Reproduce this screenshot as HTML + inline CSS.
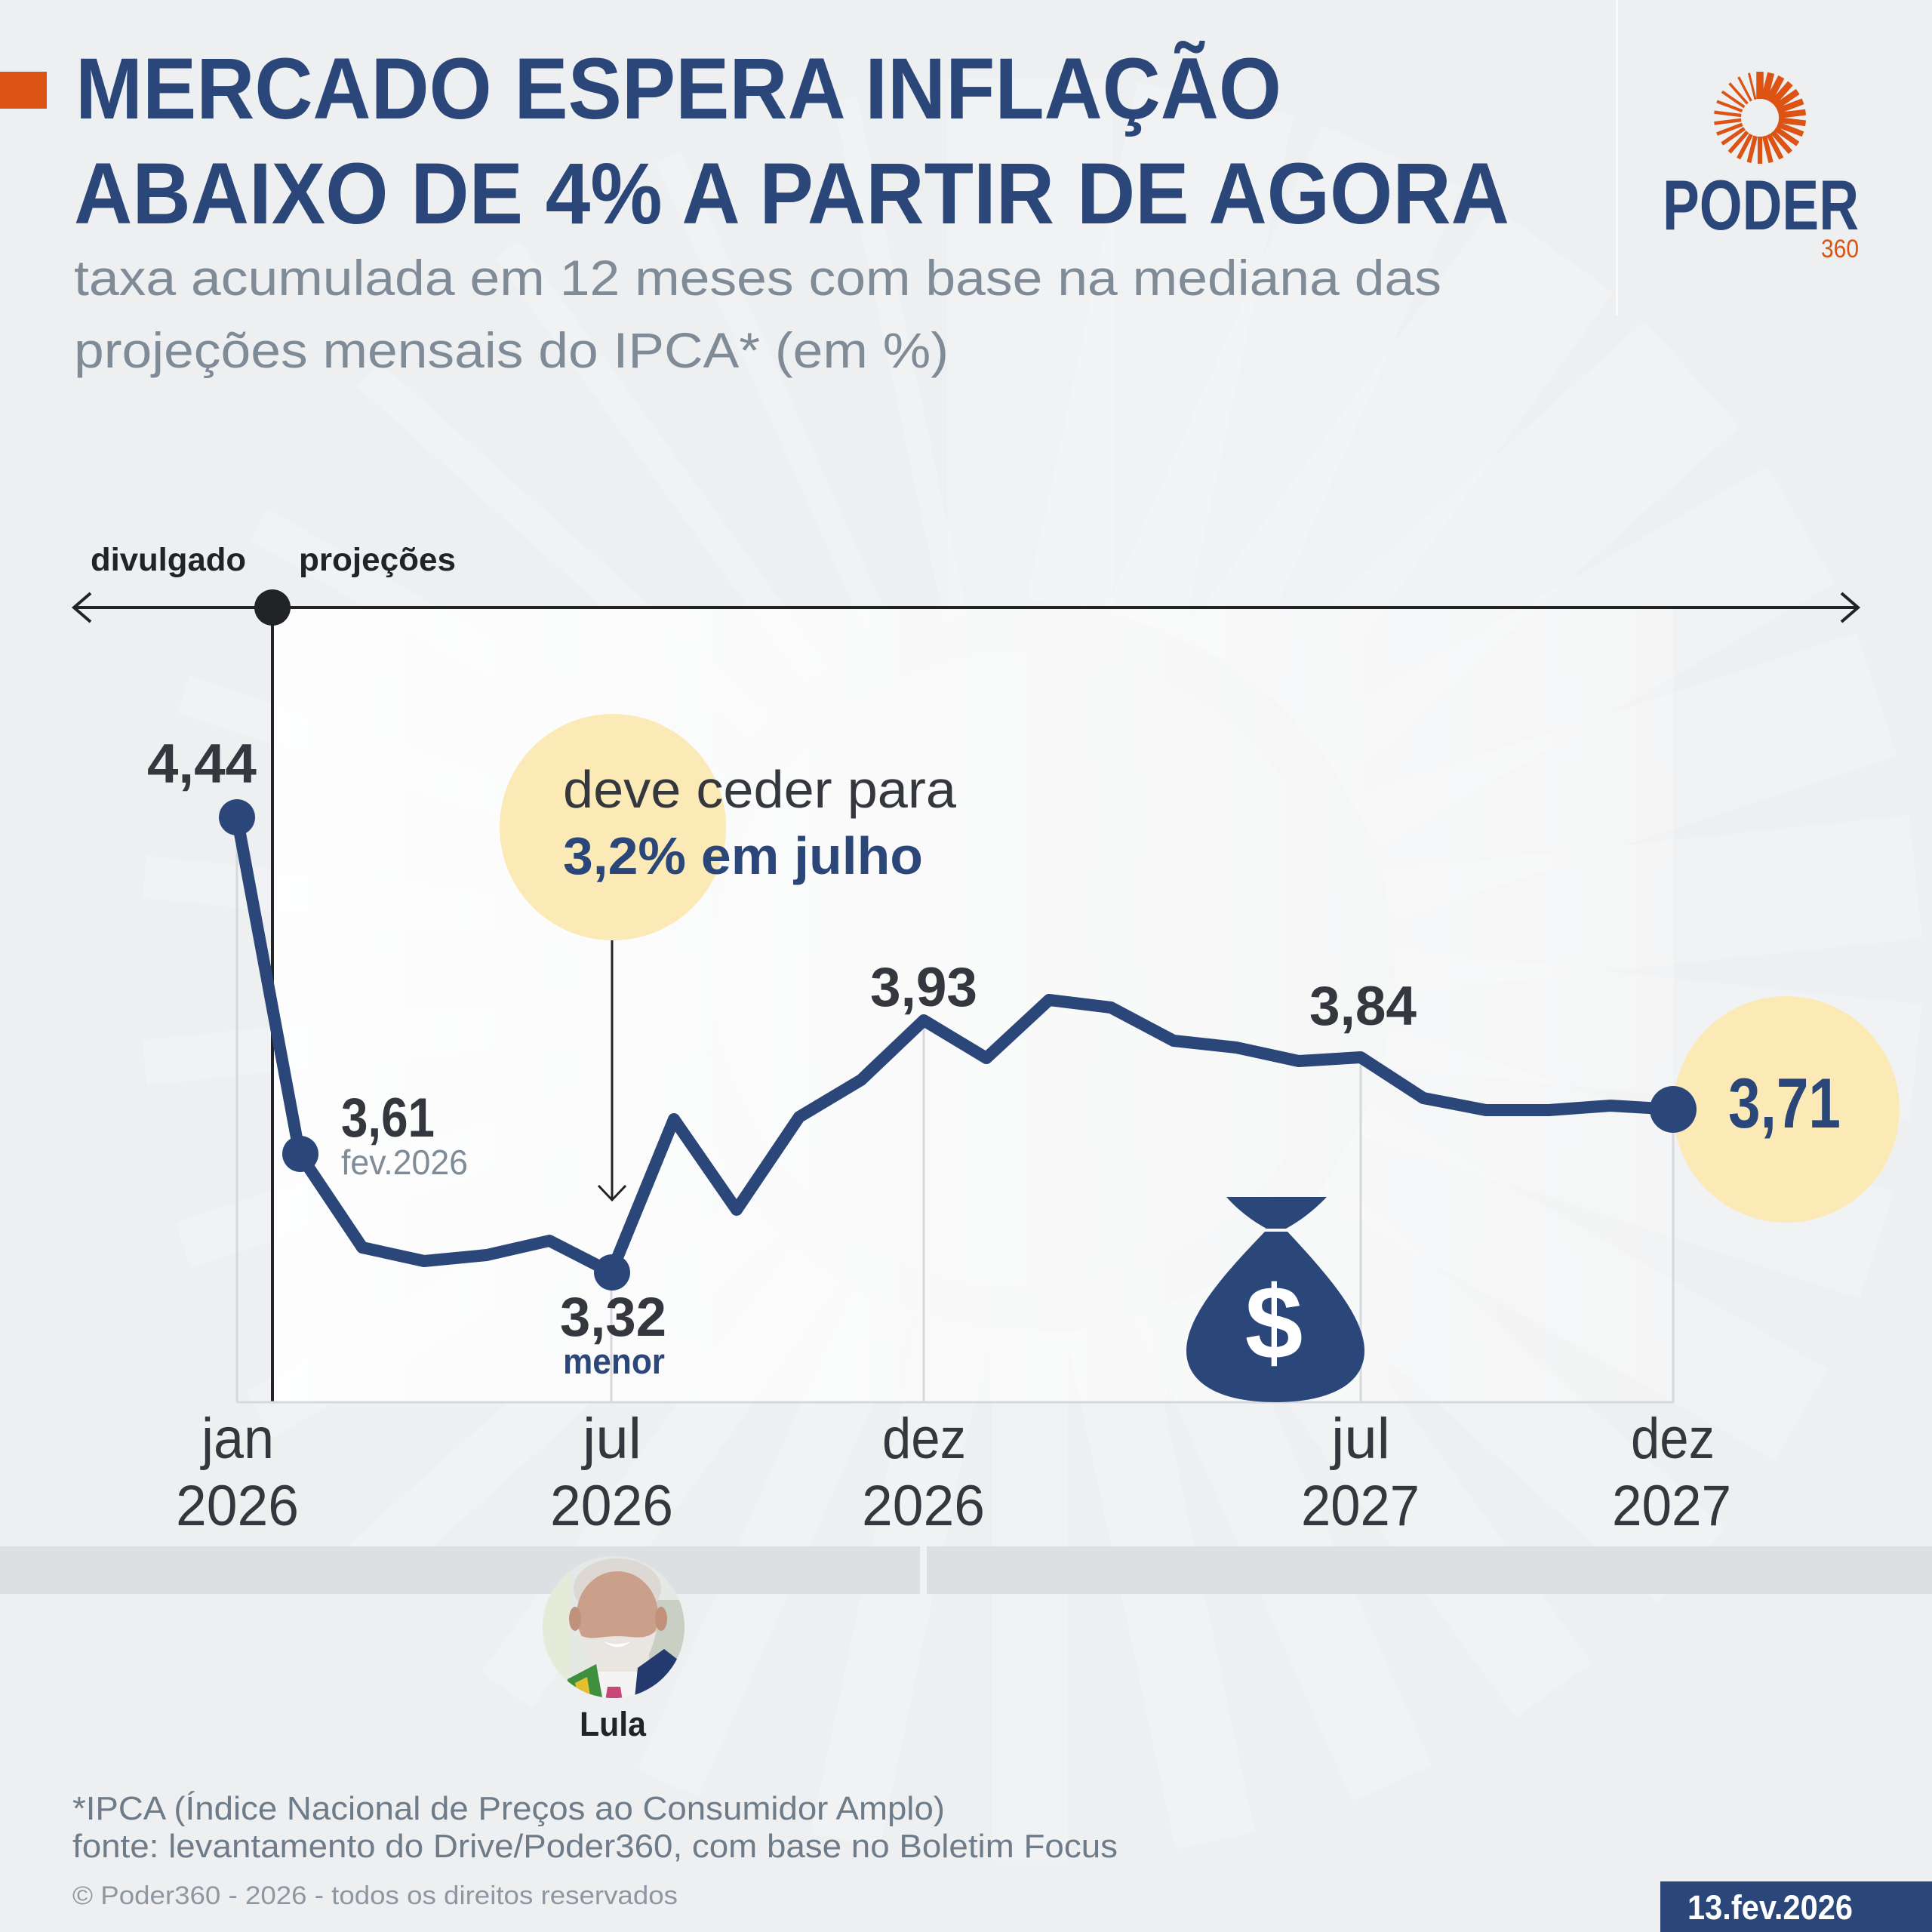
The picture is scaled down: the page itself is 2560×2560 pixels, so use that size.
<!DOCTYPE html>
<html><head><meta charset="utf-8"><style>
html,body{margin:0;padding:0;background:#eeeff0;}
svg{display:block;}
text{font-family:"Liberation Sans",sans-serif;}
</style></head><body>
<svg width="2560" height="2560" viewBox="0 0 2560 2560" xmlns="http://www.w3.org/2000/svg">
<defs>
<linearGradient id="pg" x1="0" y1="0" x2="1" y2="0">
<stop offset="0" stop-color="#ffffff" stop-opacity="0.9"/>
<stop offset="0.55" stop-color="#ffffff" stop-opacity="0.6"/>
<stop offset="1" stop-color="#ffffff" stop-opacity="0.25"/>
</linearGradient>
<clipPath id="lc"><circle cx="813" cy="2156" r="94"/></clipPath>
</defs>
<rect width="2560" height="2560" fill="#eeeff0"/>
<!-- watermark rays -->
<g transform="translate(1365,1285)" fill="#ffffff" fill-opacity="0.2">
<rect x="480" y="-110" width="700" height="220" transform="rotate(-90)"/>
<rect x="480" y="-106" width="700" height="212" transform="rotate(-78)"/>
<rect x="480" y="-102" width="700" height="204" transform="rotate(-66)"/>
<rect x="480" y="-98" width="700" height="196" transform="rotate(-54)"/>
<rect x="480" y="-94" width="700" height="188" transform="rotate(-42)"/>
<rect x="480" y="-90" width="700" height="180" transform="rotate(-30)"/>
<rect x="480" y="-86" width="700" height="172" transform="rotate(-18)"/>
<rect x="480" y="-82" width="700" height="164" transform="rotate(-6)"/>
<rect x="480" y="-78" width="700" height="156" transform="rotate(6)"/>
<rect x="480" y="-74" width="700" height="148" transform="rotate(18)"/>
<rect x="480" y="-70" width="700" height="140" transform="rotate(30)"/>
<rect x="480" y="-66" width="700" height="132" transform="rotate(42)"/>
<rect x="480" y="-62" width="700" height="124" transform="rotate(54)"/>
<rect x="480" y="-58" width="700" height="116" transform="rotate(66)"/>
<rect x="480" y="-54" width="700" height="108" transform="rotate(78)"/>
<rect x="480" y="-50" width="700" height="100" transform="rotate(90)"/>
<rect x="480" y="-47" width="700" height="94" transform="rotate(102)"/>
<rect x="480" y="-44" width="700" height="88" transform="rotate(114)"/>
<rect x="480" y="-41" width="700" height="82" transform="rotate(126)"/>
<rect x="480" y="-38" width="700" height="76" transform="rotate(138)"/>
<rect x="480" y="-35" width="700" height="70" transform="rotate(150)"/>
<rect x="480" y="-32" width="700" height="64" transform="rotate(162)"/>
<rect x="480" y="-30" width="700" height="60" transform="rotate(174)"/>
<rect x="480" y="-28" width="700" height="56" transform="rotate(186)"/>
<rect x="480" y="-26" width="700" height="52" transform="rotate(198)"/>
<rect x="480" y="-24" width="700" height="48" transform="rotate(210)"/>
<rect x="480" y="-22" width="700" height="44" transform="rotate(222)"/>
<rect x="480" y="-20" width="700" height="40" transform="rotate(234)"/>
<rect x="480" y="-18" width="700" height="36" transform="rotate(246)"/>
<rect x="480" y="-16" width="700" height="32" transform="rotate(258)"/>
</g>
<circle cx="1365" cy="1285" r="420" fill="#ffffff" fill-opacity="0.15"/>

<!-- header -->
<rect x="0" y="95" width="62" height="49" fill="#dc5314"/>
<text x="100" y="157" font-size="115" font-weight="bold" fill="#2b4779" textLength="1598" lengthAdjust="spacingAndGlyphs">MERCADO ESPERA INFLAÇÃO</text>
<text x="98" y="296" font-size="115" font-weight="bold" fill="#2b4779" textLength="1902" lengthAdjust="spacingAndGlyphs">ABAIXO DE 4% A PARTIR DE AGORA</text>
<text x="98" y="391" font-size="66" fill="#7f8b97" textLength="1812" lengthAdjust="spacingAndGlyphs">taxa acumulada em 12 meses com base na mediana das</text>
<text x="98" y="487" font-size="66" fill="#7f8b97" textLength="1159" lengthAdjust="spacingAndGlyphs">projeções mensais do IPCA* (em %)</text>
<rect x="2141" y="0" width="3" height="418" fill="#fbfbfb"/>

<!-- logo -->
<g transform="translate(2332,156)" fill="#dc5314">
<rect x="25" y="-4.75" width="36" height="9.5" transform="rotate(-90)"/>
<rect x="25" y="-4.62" width="36" height="9.24" transform="rotate(-76.15)"/>
<rect x="25" y="-4.49" width="36" height="8.98" transform="rotate(-62.3)"/>
<rect x="25" y="-4.36" width="36" height="8.72" transform="rotate(-48.46)"/>
<rect x="25" y="-4.23" width="36" height="8.46" transform="rotate(-34.6)"/>
<rect x="25" y="-4.1" width="36" height="8.2" transform="rotate(-20.8)"/>
<rect x="25" y="-3.97" width="36" height="7.94" transform="rotate(-6.9)"/>
<rect x="25" y="-3.84" width="36" height="7.68" transform="rotate(6.9)"/>
<rect x="25" y="-3.71" width="36" height="7.42" transform="rotate(20.8)"/>
<rect x="25" y="-3.58" width="36" height="7.16" transform="rotate(34.6)"/>
<rect x="25" y="-3.45" width="36" height="6.9" transform="rotate(48.5)"/>
<rect x="25" y="-3.32" width="36" height="6.64" transform="rotate(62.3)"/>
<rect x="25" y="-3.19" width="36" height="6.38" transform="rotate(76.2)"/>
<rect x="25" y="-3.06" width="36" height="6.12" transform="rotate(90)"/>
<rect x="25" y="-2.93" width="36" height="5.86" transform="rotate(103.8)"/>
<rect x="25" y="-2.8" width="36" height="5.6" transform="rotate(117.7)"/>
<rect x="25" y="-2.67" width="36" height="5.34" transform="rotate(131.5)"/>
<rect x="25" y="-2.54" width="36" height="5.08" transform="rotate(145.4)"/>
<rect x="25" y="-2.41" width="36" height="4.82" transform="rotate(159.2)"/>
<rect x="25" y="-2.28" width="36" height="4.56" transform="rotate(173.1)"/>
<rect x="25" y="-2.15" width="36" height="4.3" transform="rotate(186.9)"/>
<rect x="25" y="-2.02" width="36" height="4.04" transform="rotate(200.8)"/>
<rect x="25" y="-1.89" width="36" height="3.78" transform="rotate(214.6)"/>
<rect x="25" y="-1.76" width="36" height="3.52" transform="rotate(228.5)"/>
<rect x="25" y="-1.63" width="36" height="3.26" transform="rotate(242.3)"/>
<rect x="25" y="-1.5" width="36" height="3" transform="rotate(256.2)"/>
</g>
<text x="2203" y="304" font-size="94" font-weight="bold" fill="#2b4779" textLength="260" lengthAdjust="spacingAndGlyphs">PODER</text>
<text x="2413" y="341" font-size="34" fill="#dc5314" textLength="50" lengthAdjust="spacingAndGlyphs">360</text>

<!-- panel -->
<rect x="361" y="805" width="1856" height="1053" fill="url(#pg)"/>

<!-- top axis -->
<text x="120" y="756" font-size="43" font-weight="bold" fill="#222327" textLength="206" lengthAdjust="spacingAndGlyphs">divulgado</text>
<text x="396" y="756" font-size="43" font-weight="bold" fill="#222327" textLength="208" lengthAdjust="spacingAndGlyphs">projeções</text>
<line x1="98" y1="805" x2="2462" y2="805" stroke="#222327" stroke-width="4"/>
<polyline points="120,786 98,805 120,824" fill="none" stroke="#222327" stroke-width="4"/>
<polyline points="2440,786 2462,805 2440,824" fill="none" stroke="#222327" stroke-width="4"/>
<line x1="361" y1="805" x2="361" y2="1858" stroke="#222327" stroke-width="4"/>
<circle cx="361" cy="805" r="24" fill="#222327"/>

<!-- grid -->
<g stroke="#d5d8dc" stroke-width="3" fill="none">
<line x1="314" y1="1083" x2="314" y2="1858"/>
<line x1="810" y1="1686" x2="810" y2="1858"/>
<line x1="1224" y1="1352" x2="1224" y2="1858"/>
<line x1="1803" y1="1401" x2="1803" y2="1858"/>
<line x1="2217" y1="1470" x2="2217" y2="1858"/>
<line x1="314" y1="1858" x2="2218" y2="1858"/>
</g>

<!-- yellow circles -->
<circle cx="812" cy="1096" r="150" fill="#fbeab5"/>
<circle cx="2367" cy="1470" r="150" fill="#fbeab5"/>

<!-- callout -->
<text x="746" y="1070" font-size="70" fill="#34373e" textLength="521" lengthAdjust="spacingAndGlyphs">deve ceder para</text>
<text x="746" y="1158" font-size="70" font-weight="bold" fill="#2b4779" textLength="477" lengthAdjust="spacingAndGlyphs">3,2% em julho</text>
<line x1="811" y1="1246" x2="811" y2="1590" stroke="#222327" stroke-width="3"/>
<polyline points="793,1571 811,1590 829,1571" fill="none" stroke="#222327" stroke-width="3"/>

<!-- money bag -->
<path d="M1625,1586 L1758,1586 C1740,1605 1722,1618 1704,1628 L1678,1628 C1660,1618 1642,1605 1625,1586 Z" fill="#2b4779"/>
<path d="M1676,1632 L1706,1632 C1760,1690 1808,1745 1808,1790 C1808,1832 1765,1858 1690,1858 C1615,1858 1572,1832 1572,1790 C1572,1745 1620,1690 1676,1632 Z" fill="#2b4779"/>
<text x="1688" y="1800" font-size="138" font-weight="bold" fill="#ffffff" text-anchor="middle">$</text>

<!-- series -->
<polyline fill="none" stroke="#2b4779" stroke-width="16" stroke-linejoin="round" stroke-linecap="round"
points="314,1083 397,1529 480,1653 562,1671 645,1663 728,1644 810,1686 893,1483 976,1603 1059,1480 1141,1431 1224,1352 1307,1402 1390,1325 1472,1335 1555,1379 1638,1388 1721,1406 1803,1401 1886,1455 1969,1471 2052,1471 2134,1465 2217,1470"/>
<circle cx="314" cy="1083" r="24" fill="#2b4779"/>
<circle cx="398" cy="1529" r="24" fill="#2b4779"/>
<circle cx="811" cy="1686" r="24" fill="#2b4779"/>
<circle cx="2217" cy="1470" r="31" fill="#2b4779"/>

<!-- value labels -->
<text x="195" y="1037" font-size="73" font-weight="bold" fill="#34373e" textLength="145" lengthAdjust="spacingAndGlyphs">4,44</text>
<text x="452" y="1506" font-size="73" font-weight="bold" fill="#34373e" textLength="124" lengthAdjust="spacingAndGlyphs">3,61</text>
<text x="452" y="1556" font-size="46" fill="#7f8b97" textLength="168" lengthAdjust="spacingAndGlyphs">fev.2026</text>
<text x="742" y="1770" font-size="73" font-weight="bold" fill="#34373e" textLength="141" lengthAdjust="spacingAndGlyphs">3,32</text>
<text x="746" y="1820" font-size="47" font-weight="bold" fill="#2b4779" textLength="135" lengthAdjust="spacingAndGlyphs">menor</text>
<text x="1153" y="1333" font-size="73" font-weight="bold" fill="#34373e" textLength="142" lengthAdjust="spacingAndGlyphs">3,93</text>
<text x="1735" y="1358" font-size="73" font-weight="bold" fill="#34373e" textLength="142" lengthAdjust="spacingAndGlyphs">3,84</text>
<text x="2290" y="1494" font-size="94" font-weight="bold" fill="#2b4779" textLength="149" lengthAdjust="spacingAndGlyphs">3,71</text>

<!-- x labels -->
<g font-size="76" fill="#34373e">
<text x="267" y="1932" textLength="96" lengthAdjust="spacingAndGlyphs">jan</text>
<text x="233" y="2021" textLength="163" lengthAdjust="spacingAndGlyphs">2026</text>
<text x="772" y="1932" textLength="78" lengthAdjust="spacingAndGlyphs">jul</text>
<text x="729" y="2021" textLength="163" lengthAdjust="spacingAndGlyphs">2026</text>
<text x="1169" y="1932" textLength="111" lengthAdjust="spacingAndGlyphs">dez</text>
<text x="1142" y="2021" textLength="163" lengthAdjust="spacingAndGlyphs">2026</text>
<text x="1764" y="1932" textLength="78" lengthAdjust="spacingAndGlyphs">jul</text>
<text x="1724" y="2021" textLength="157" lengthAdjust="spacingAndGlyphs">2027</text>
<text x="2161" y="1932" textLength="111" lengthAdjust="spacingAndGlyphs">dez</text>
<text x="2136" y="2021" textLength="158" lengthAdjust="spacingAndGlyphs">2027</text>
</g>

<!-- band -->
<rect x="0" y="2049" width="1219" height="63" fill="#dce0e3"/>
<rect x="1228" y="2049" width="1332" height="63" fill="#dce0e3"/>

<!-- Lula photo -->
<g clip-path="url(#lc)">
<rect x="715" y="2058" width="200" height="200" fill="#e4e9e6"/>
<rect x="715" y="2058" width="40" height="200" fill="#e6ead8"/>
<rect x="860" y="2120" width="50" height="80" fill="#c9cfc3"/>
<ellipse cx="818" cy="2105" rx="58" ry="40" fill="#ddd8d3"/>
<ellipse cx="818" cy="2140" rx="54" ry="58" fill="#caa08a"/>
<ellipse cx="762" cy="2145" rx="8" ry="16" fill="#c0927c"/>
<ellipse cx="876" cy="2145" rx="8" ry="16" fill="#c0927c"/>
<path d="M766,2165 C775,2200 795,2226 818,2228 C842,2226 862,2200 870,2160 C855,2175 840,2168 818,2168 C796,2168 780,2175 766,2165 Z" fill="#e9e5e0"/>
<path d="M800,2175 Q818,2190 836,2175 Q818,2182 800,2175 Z" fill="#ffffff"/>
<path d="M790,2215 L850,2215 L860,2260 L780,2260 Z" fill="#f4f4f4"/>
<path d="M845,2210 L880,2185 L912,2210 L912,2260 L840,2260 Z" fill="#243a6e"/>
<path d="M752,2225 L790,2205 L800,2260 L752,2260 Z" fill="#3f8f3f"/>
<path d="M762,2230 L778,2222 L784,2260 L768,2260 Z" fill="#e3c12c"/>
<path d="M805,2235 L822,2235 L826,2260 L801,2260 Z" fill="#c8477a"/>
</g>
<text x="768" y="2300" font-size="45" font-weight="bold" fill="#222327" textLength="88" lengthAdjust="spacingAndGlyphs">Lula</text>

<!-- footer -->
<text x="96" y="2411" font-size="44" fill="#6e7b88" textLength="1156" lengthAdjust="spacingAndGlyphs">*IPCA (Índice Nacional de Preços ao Consumidor Amplo)</text>
<text x="96" y="2461" font-size="44" fill="#6e7b88" textLength="1385" lengthAdjust="spacingAndGlyphs">fonte: levantamento do Drive/Poder360, com base no Boletim Focus</text>
<text x="96" y="2523" font-size="34" fill="#8d97a1" textLength="802" lengthAdjust="spacingAndGlyphs">© Poder360 - 2026 - todos os direitos reservados</text>
<rect x="2200" y="2493" width="360" height="67" fill="#2b4779"/>
<text x="2236" y="2543" font-size="45" font-weight="bold" fill="#ffffff" textLength="219" lengthAdjust="spacingAndGlyphs">13.fev.2026</text>
</svg>
</body></html>
